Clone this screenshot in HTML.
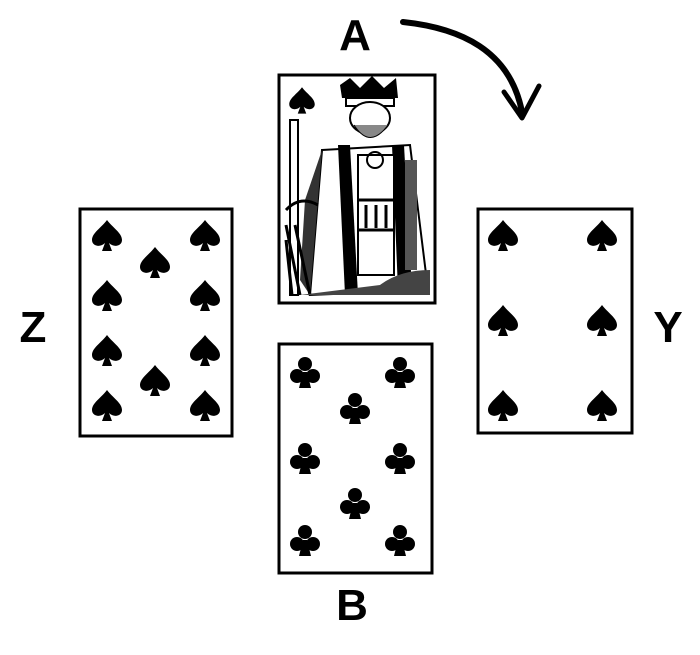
<!DOCTYPE html>
<html><head><meta charset="utf-8"><style>
html,body{margin:0;padding:0;background:#fff;width:700px;height:655px;overflow:hidden}
</style></head><body>
<svg width="700" height="655" viewBox="0 0 700 655" xmlns="http://www.w3.org/2000/svg">
<defs>
<path id="sp" d="M0,-15 C6,-7 15,-2 15,5 C15,11 7,13 2,8 L5,16 L-5,16 L-2,8 C-7,13 -15,11 -15,5 C-15,-2 -6,-7 0,-15Z" fill="#000"/>
<g id="cl" fill="#000"><circle cx="0" cy="-8" r="7"/><circle cx="-8" cy="4" r="7"/><circle cx="8" cy="4" r="7"/><path d="M-2,0 L2,0 L6,16 L-6,16Z"/></g>
</defs>
<g font-family="Liberation Sans, sans-serif" font-weight="bold" font-size="44" text-anchor="middle">
<text x="355" y="50">A</text>
<text x="33" y="342">Z</text>
<text x="668" y="342">Y</text>
<text x="352" y="620">B</text>
</g>
<path d="M403,22 C460,28 510,50 522,112" fill="none" stroke="#000" stroke-width="6" stroke-linecap="round"/>
<path d="M504,92 L522,118 L539,86" fill="none" stroke="#000" stroke-width="5" stroke-linecap="round" stroke-linejoin="round"/>
<g fill="none" stroke="#000" stroke-width="3">
<rect x="279" y="75" width="156" height="228"/>
<rect x="80" y="209" width="152" height="227"/>
<rect x="478" y="209" width="154" height="224"/>
<rect x="279" y="344" width="153" height="229"/>
</g>
<!-- king -->
<g>
<use href="#sp" transform="translate(302,100) scale(0.85)"/>
<path d="M340,85 L350,78 L360,88 L372,76 L384,88 L396,78 L398,98 L342,98Z" fill="#000"/>
<rect x="346" y="98" width="48" height="8" fill="#fff" stroke="#000" stroke-width="2"/>
<ellipse cx="370" cy="118" rx="20" ry="16" fill="#fff" stroke="#000" stroke-width="2"/>
<path d="M354,125 Q370,150 388,125" fill="#888" stroke="#000"/>
<path d="M322,150 L410,145 L428,290 L310,295Z" fill="#fff" stroke="#000" stroke-width="2"/>
<path d="M338,145 L350,145 L358,295 L345,295Z" fill="#000"/>
<path d="M392,145 L404,145 L412,290 L398,290Z" fill="#000"/>
<path d="M322,150 L310,295 L300,280 L305,200Z" fill="#333"/>
<rect x="358" y="155" width="36" height="120" fill="#fff" stroke="#000" stroke-width="2"/>
<circle cx="375" cy="160" r="8" fill="none" stroke="#000" stroke-width="2"/>
<path d="M358,200 L394,200 M358,230 L394,230 M366,205 L366,228 M376,205 L376,228 M386,205 L386,228" stroke="#000" stroke-width="3"/>
<rect x="290" y="120" width="8" height="175" fill="#fff" stroke="#000" stroke-width="2"/>
<path d="M286,210 Q300,195 318,205 M286,225 L300,295 M295,225 L310,295 M286,240 L292,295" stroke="#000" stroke-width="3" fill="none"/>
<path d="M300,295 L430,295 L430,270 Q400,270 380,285 Z" fill="#444"/>
<rect x="405" y="160" width="12" height="110" fill="#555"/>
</g>
<!-- ten of spades -->
<g>
<use href="#sp" x="107" y="235"/><use href="#sp" x="205" y="235"/>
<use href="#sp" x="155" y="262"/>
<use href="#sp" x="107" y="295"/><use href="#sp" x="205" y="295"/>
<use href="#sp" x="107" y="350"/><use href="#sp" x="205" y="350"/>
<use href="#sp" x="155" y="380"/>
<use href="#sp" x="107" y="405"/><use href="#sp" x="205" y="405"/>
</g>
<!-- six of spades -->
<g>
<use href="#sp" x="503" y="235"/><use href="#sp" x="602" y="235"/>
<use href="#sp" x="503" y="320"/><use href="#sp" x="602" y="320"/>
<use href="#sp" x="503" y="405"/><use href="#sp" x="602" y="405"/>
</g>
<!-- nine of clubs -->
<g>
<use href="#cl" x="305" y="372"/><use href="#cl" x="400" y="372"/>
<use href="#cl" x="355" y="408"/>
<use href="#cl" x="305" y="458"/><use href="#cl" x="400" y="458"/>
<use href="#cl" x="355" y="503"/>
<use href="#cl" x="305" y="540"/><use href="#cl" x="400" y="540"/>
</g>
</svg>
</body></html>
